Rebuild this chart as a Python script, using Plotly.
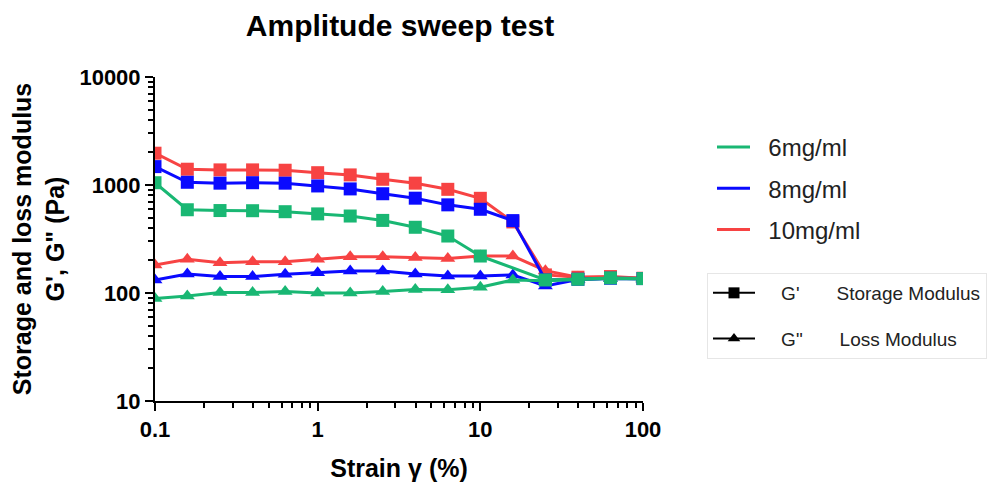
import plotly.graph_objects as go

strain = [0.1, 0.158, 0.251, 0.398, 0.631, 1, 1.585, 2.512, 3.981, 6.31, 10, 15.85, 25.12, 39.81, 63.1, 100]

storage_6 = [1050, 590, 580, 578, 566, 540, 516, 470, 406, 337, 220, None, 132, 134, 138, 136]
storage_8 = [1480, 1060, 1040, 1050, 1040, 980, 920, 830, 755, 655, 596, 468, 132, 134, 137, 136]
storage_10 = [1970, 1400, 1380, 1380, 1370, 1300, 1240, 1130, 1040, 912, 753, 455, 147, 140, 142, 137]

loss_6 = [89, 94, 101, 101, 103, 100, 100, 103, 108, 107, 113, 132, 130, 133, 136, 135]
loss_8 = [132, 150, 142, 142, 149, 154, 160, 160, 150, 144, 144, 147, 116, 133, 136, 135]
loss_10 = [182, 205, 191, 195, 195, 205, 217, 217, 213, 209, 220, 220, 161, 140, 140, 137]

series_names = ["6mg/ml", "8mg/ml", "10mg/ml"]
modulus_symbols = ["G'", "G\""]
modulus_names = ["Storage Modulus", "Loss Modulus"]
colors = {"6mg/ml": "#19b773", "8mg/ml": "#0a0aff", "10mg/ml": "#f74343"}
storage = {"6mg/ml": storage_6, "8mg/ml": storage_8, "10mg/ml": storage_10}
loss = {"6mg/ml": loss_6, "8mg/ml": loss_8, "10mg/ml": loss_10}

FONT = "Liberation Sans, Arial, sans-serif"

# page body has an 8px default margin; size the figure to fit the window
OFF = 8
W, H = 1003 - OFF, 490 - OFF

fig = go.Figure()

draw_order = ["10mg/ml", "8mg/ml", "6mg/ml"]
for name in draw_order:
    c = colors[name]
    fig.add_trace(go.Scatter(
        x=strain, y=loss[name], mode="lines+markers", connectgaps=True,
        line=dict(color=c, width=3),
        marker=dict(symbol="triangle-up", size=13, color=c),
        showlegend=False, hoverinfo="skip"))
    fig.add_trace(go.Scatter(
        x=strain, y=storage[name], mode="lines+markers", connectgaps=True,
        line=dict(color=c, width=3),
        marker=dict(symbol="square", size=13, color=c),
        showlegend=False, hoverinfo="skip"))

# legend 1: concentrations
for i, name in enumerate(series_names):
    fig.add_trace(go.Scatter(
        x=[None], y=[None], mode="lines", name="  " + name,
        line=dict(color=colors[name], width=3),
        legend="legend", legendgroup="c%d" % i, showlegend=True))

# legend 2: moduli
for i, sym in enumerate(["square", "triangle-up"]):
    fig.add_trace(go.Scatter(
        x=[None], y=[None], mode="lines+markers",
        name="    " + modulus_symbols[i] + "       " + modulus_names[i],
        line=dict(color="black", width=2),
        marker=dict(symbol=sym, size=11, color="black"),
        legend="legend2", legendgroup="m%d" % i, showlegend=True))

axis_common = dict(
    type="log", showgrid=False, zeroline=False, automargin=False,
    showline=True, linecolor="black", linewidth=2,
    ticks="outside", ticklen=8, tickwidth=2, tickcolor="black",
    tickfont=dict(family=FONT, size=22, color="black", weight="bold"),
    minor=dict(ticks="outside", ticklen=5, tickwidth=1.5, tickcolor="black", dtick="D1", showgrid=False),
    dtick=1,
)

fig.update_layout(
    width=W, height=H,
    paper_bgcolor="white", plot_bgcolor="white",
    margin=dict(l=155 - OFF, r=W - (643 - OFF), t=77 - OFF, b=H - (401 - OFF)),
    title=dict(text="<b>Amplitude sweep test</b>", x=(400 - OFF) / W, xanchor="center",
               y=1 - (25 - OFF) / H, yanchor="middle",
               font=dict(family=FONT, size=30, color="black")),
    xaxis=dict(axis_common, range=[-1, 2], tickvals=[0.1, 1, 10, 100], ticktext=["0.1", "1", "10", "100"],
               title=dict(text="<b>Strain γ (%)</b>", font=dict(family=FONT, size=25, color="black"), standoff=18)),
    yaxis=dict(axis_common, range=[1, 4], tickvals=[10, 100, 1000, 10000], ticktext=["10", "100", "1000", "10000"],
               title=dict(text="<b>Storage and loss modulus<br>G', G\" (Pa)</b>",
                          font=dict(family=FONT, size=25, color="black"), standoff=12)),
    legend=dict(x=(712 - 155) / 488, y=(401 - 125) / 324, xanchor="left", yanchor="top",
                font=dict(family=FONT, size=24, color="#222"),
                bgcolor="rgba(0,0,0,0)", tracegroupgap=7, itemwidth=33),
    legend2=dict(x=(707 - 155) / 488, y=(401 - 273) / 324, xanchor="left", yanchor="top",
                 font=dict(family=FONT, size=19, color="#222"),
                 bgcolor="white", bordercolor="#e6e6e6", borderwidth=1,
                 tracegroupgap=18, itemwidth=42),
    showlegend=True,
)

fig.write_html("out.html")
